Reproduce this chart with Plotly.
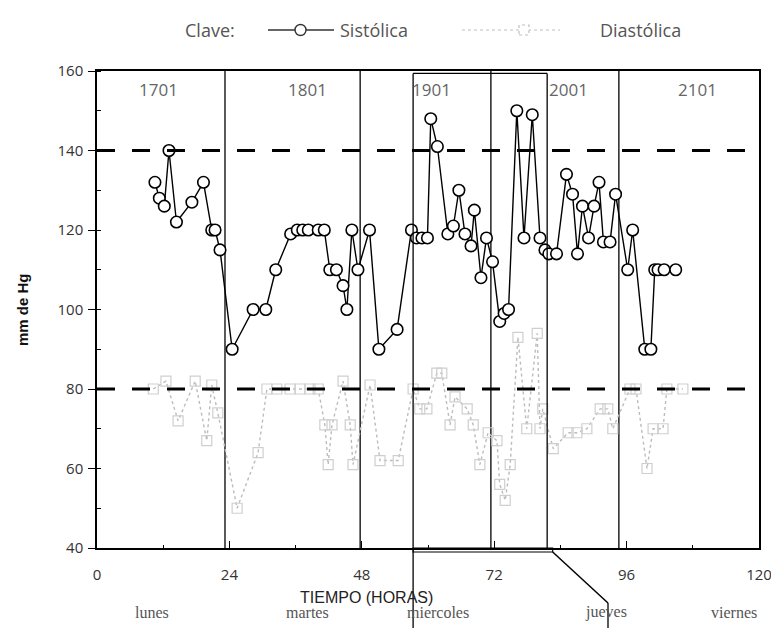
import plotly.graph_objects as go

# ---------------- data ----------------
sys_hours = [10.5, 11.3, 12.2, 13.05, 14.4, 17.2, 19.3, 20.8, 21.4, 22.3,
             24.5, 28.3, 30.6, 32.4, 35.1, 36.3, 37.3, 38.3, 40.1, 41.2,
             42.2, 43.4, 44.6, 45.3, 46.2, 47.3, 49.4, 51.1, 54.4, 57.0,
             57.9, 58.9, 59.9, 60.5, 61.7, 63.6, 64.6, 65.6, 66.7, 67.8,
             68.4, 69.6, 70.6, 71.7, 73.0, 73.8, 74.6, 76.1, 77.4, 78.9,
             80.3, 81.2, 81.9, 83.3, 85.1, 86.2, 87.1, 88.0, 89.1, 90.1,
             91.0, 91.8, 93.0, 94.0, 96.2, 97.1, 99.3, 100.4, 101.1, 101.7,
             102.8, 104.9]
sys_values = [132, 128, 126, 140, 122, 127, 132, 120, 120, 115,
              90, 100, 100, 110, 119, 120, 120, 120, 120, 120,
              110, 110, 106, 100, 120, 110, 120, 90, 95, 120,
              118, 118, 118, 148, 141, 119, 121, 130, 119, 116,
              125, 108, 118, 112, 97, 99, 100, 150, 118, 149,
              118, 115, 114, 114, 134, 129, 114, 126, 118, 126,
              132, 117, 117, 129, 110, 120, 90, 90, 110, 110,
              110, 110]

dia_hours = [10.2, 12.5, 14.7, 17.8, 19.9, 20.8, 21.9, 25.4, 29.2, 30.8,
             32.6, 35.0, 36.8, 38.6, 40.1, 41.3, 41.9, 42.6, 44.6, 45.9,
             46.4, 49.5, 51.3, 54.6, 57.3, 58.5, 59.8, 61.6, 62.5, 64.0,
             64.9, 67.1, 68.2, 69.4, 70.9, 72.5, 73.0, 74.0, 74.9, 76.3,
             77.9, 79.8, 80.3, 80.8, 82.7, 85.4, 87.0, 88.8, 91.2, 92.6,
             93.5, 96.6, 97.7, 99.7, 100.8, 102.6, 103.3, 106.2]
dia_values = [80, 82, 72, 82, 67, 81, 74, 50, 64, 80,
              80, 80, 80, 80, 80, 71, 61, 71, 82, 71,
              61, 81, 62, 62, 80, 75, 75, 84, 84, 71,
              78, 75, 71, 61, 69, 67, 56, 52, 61, 93,
              70, 94, 70, 75, 65, 69, 69, 70, 75, 75,
              70, 80, 80, 60, 70, 70, 80, 80]

x_ticks = [0, 24, 48, 72, 96, 120]
y_ticks = [40, 60, 80, 100, 120, 140, 160]
ref_lines = [140, 80]
day_lines = [23.2, 47.7, 71.4, 94.6]
day_codes = ["1701", "1801", "1901", "2001", "2101"]
day_code_hours = [11.1, 38.1, 60.7, 85.4, 108.8]
day_names = ["lunes", "martes", "miercoles", "jueves", "viernes"]
day_name_hours = [9.9, 38.1, 61.8, 92.3, 115.5]
box_hours = [57.3, 81.6]

# ---------------- layout geometry ----------------
W, H = 771, 628
L, R, T, B = 97, 12, 71, 80
PW, PH = W - L - R, H - T - B
XR = (0, 120)
YR = (40, 160)


def xp(h):          # hour -> paper x
    return (h - XR[0]) / (XR[1] - XR[0])


def pxx(px):        # pixel -> paper x
    return (px - L) / PW


def pyy(py):        # pixel -> paper y
    return (H - B - py) / PH


fig = go.Figure()

fig.add_trace(go.Scatter(
    x=dia_hours, y=dia_values, mode="lines+markers", name="Diastólica",
    line=dict(color="#bcbcbc", width=1.4, dash="dot"),
    marker=dict(symbol="square-open", size=10, color="#cfcfcf",
                line=dict(width=1.2, color="#cfcfcf")),
    showlegend=False))

fig.add_trace(go.Scatter(
    x=sys_hours, y=sys_values, mode="lines+markers", name="Sistólica",
    line=dict(color="black", width=1.4),
    marker=dict(symbol="circle", size=11.5, color="white",
                line=dict(width=1.6, color="black")),
    showlegend=False))

shapes = []
for v in ref_lines:
    shapes.append(dict(type="line", xref="x", yref="y", x0=XR[0], x1=XR[1],
                       y0=v, y1=v, layer="above",
                       line=dict(color="black", width=3, dash="18px,17px")))
for h in day_lines:
    shapes.append(dict(type="line", xref="x", yref="y", x0=h, x1=h,
                       y0=YR[0], y1=YR[1], layer="below",
                       line=dict(color="black", width=1.3)))

# bracket box (Wednesday selection)
top_y = 159.4
shapes.append(dict(type="line", xref="x", yref="y", x0=box_hours[0], x1=box_hours[1],
                   y0=top_y, y1=top_y, line=dict(color="black", width=1.3)))
shapes.append(dict(type="line", xref="x", yref="y", x0=box_hours[1], x1=box_hours[1],
                   y0=top_y, y1=YR[0], line=dict(color="black", width=1.3)))
shapes.append(dict(type="line", xref="paper", yref="paper",
                   x0=xp(box_hours[0]), x1=xp(box_hours[0]),
                   y0=(top_y - YR[0]) / (YR[1] - YR[0]), y1=pyy(H),
                   line=dict(color="black", width=1.3)))
shapes.append(dict(type="rect", xref="paper", yref="paper",
                   x0=xp(box_hours[0]), x1=xp(82.6), y0=0, y1=pyy(552),
                   line=dict(color="black", width=1.1)))
shapes.append(dict(type="line", xref="paper", yref="paper",
                   x0=xp(82.6), x1=pxx(608), y0=pyy(552), y1=pyy(603),
                   line=dict(color="black", width=1.5)))
shapes.append(dict(type="line", xref="paper", yref="paper",
                   x0=pxx(608), x1=pxx(608), y0=pyy(603), y1=pyy(H),
                   line=dict(color="black", width=1.3)))

# key (legend) symbols
ly = pyy(30)
shapes.append(dict(type="line", xref="paper", yref="paper",
                   x0=pxx(268), x1=pxx(334), y0=ly, y1=ly,
                   line=dict(color="#333", width=1.4)))
shapes.append(dict(type="circle", xref="paper", yref="paper",
                   x0=pxx(295), x1=pxx(306), y0=pyy(35.5), y1=pyy(24.5),
                   fillcolor="white", line=dict(color="#333", width=1.4)))
shapes.append(dict(type="line", xref="paper", yref="paper",
                   x0=pxx(462), x1=pxx(560), y0=ly, y1=ly,
                   line=dict(color="#c0c0c0", width=1.2, dash="dot")))
shapes.append(dict(type="rect", xref="paper", yref="paper",
                   x0=pxx(519), x1=pxx(529), y0=pyy(35), y1=pyy(25),
                   fillcolor="white", line=dict(color="#c0c0c0", width=1.2, dash="dot")))

annotations = []
key_font = dict(family="Open Sans, DejaVu Sans, sans-serif", size=18, color="#555")
annotations.append(dict(xref="paper", yref="paper", x=pxx(183), y=ly, text="Clave:",
                        showarrow=False, xanchor="left", yanchor="middle", font=key_font))
annotations.append(dict(xref="paper", yref="paper", x=pxx(338), y=ly, text="Sistólica",
                        showarrow=False, xanchor="left", yanchor="middle", font=key_font))
annotations.append(dict(xref="paper", yref="paper", x=pxx(598), y=ly, text="Diastólica",
                        showarrow=False, xanchor="left", yanchor="middle", font=key_font))

for code, h in zip(day_codes, day_code_hours):
    annotations.append(dict(xref="x", yref="y", x=h, y=155.3, text=code, showarrow=False,
                            xanchor="center", yanchor="middle",
                            font=dict(family="Open Sans, DejaVu Sans, sans-serif",
                                      size=17, color="#666")))
for name, h in zip(day_names, day_name_hours):
    annotations.append(dict(xref="paper", yref="paper", x=xp(h), y=pyy(612), text=name,
                            showarrow=False, xanchor="center", yanchor="middle",
                            font=dict(family="Liberation Serif, serif", size=16,
                                      color="#555")))
annotations.append(dict(xref="paper", yref="paper", x=pxx(366), y=pyy(597),
                        text="TIEMPO (HORAS)", showarrow=False,
                        xanchor="center", yanchor="middle",
                        font=dict(family="Liberation Sans, Arial, sans-serif", size=16,
                                  color="#222")))
annotations.append(dict(xref="paper", yref="paper", x=pxx(22), y=pyy(310),
                        text="<b>mm de Hg</b>", showarrow=False, textangle=-90,
                        xanchor="center", yanchor="middle",
                        font=dict(family="Liberation Sans, Arial, sans-serif", size=15,
                                  color="#111")))

tick_font = dict(family="Open Sans, DejaVu Sans, sans-serif", size=15, color="#333")

fig.update_layout(
    width=W, height=H,
    margin=dict(l=L, r=R, t=T, b=B, pad=0, autoexpand=False),
    paper_bgcolor="white", plot_bgcolor="white",
    shapes=shapes, annotations=annotations,
    xaxis=dict(range=list(XR), tickvals=x_ticks, ticks="inside", ticklen=7,
               tickwidth=1.3, tickcolor="black", showgrid=False, zeroline=False,
               showline=True, linecolor="black", linewidth=1.5, mirror=True,
               tickfont=tick_font, ticklabelstandoff=12, automargin=False,
               ticklabeloverflow="allow",
               minor=dict(dtick=12, ticks="inside", ticklen=3, tickcolor="black")),
    yaxis=dict(range=list(YR), tickvals=y_ticks, ticks="outside", ticklen=7,
               tickwidth=1.3, tickcolor="black", showgrid=False, zeroline=False,
               showline=True, linecolor="black", linewidth=1.5, mirror=True,
               tickfont=tick_font, ticklabelstandoff=2, automargin=False,
               minor=dict(dtick=10, ticks="inside", ticklen=4, tickcolor="black")),
)

fig.write_html("out.html")
